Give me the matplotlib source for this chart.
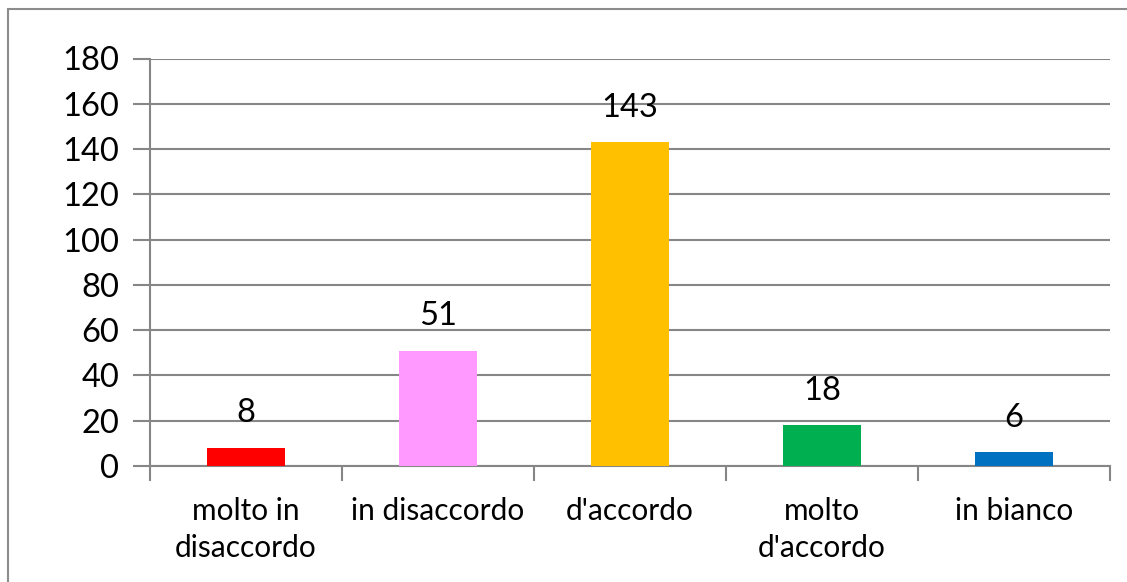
import matplotlib
matplotlib.use("Agg")
import matplotlib.pyplot as plt
from matplotlib.patches import Rectangle

categories = ["molto in\ndisaccordo", "in disaccordo", "d'accordo", "molto\nd'accordo", "in bianco"]
values = [8, 51, 143, 18, 6]
colors = ["#FF0000", "#FF99FF", "#FFC000", "#00B050", "#0070C0"]
yticks = [0, 20, 40, 60, 80, 100, 120, 140, 160, 180]

W, H = 1127, 582
fig = plt.figure(figsize=(W / 100, H / 100), dpi=100)
fig.patch.set_facecolor("white")
plt.rcParams['font.family'] = ['Lato', 'DejaVu Sans']

# outer frame (extends beyond right/bottom edge)
fig.patches.append(Rectangle((8 / W, -0.05), 1.2, 1 - 9 / H + 0.05, transform=fig.transFigure,
                             fill=False, edgecolor="#8c8c8c", linewidth=1.5))

ax = fig.add_axes([150 / W, 1 - 466 / H, 960 / W, (466 - 58.5) / H])
x = list(range(len(categories)))
ax.bar(x, values, width=0.41, color=colors, zorder=3)
ax.set_xlim(-0.5, len(categories) - 0.5)
ax.set_ylim(0, 180)
ax.set_yticks(yticks)
ax.set_yticklabels([str(v) for v in yticks], fontsize=23.5, color="black")
ax.tick_params(axis='y', length=12, width=1.5, color="#868686", pad=10)
ax.yaxis.grid(True, color="#868686", linewidth=1.5, zorder=0)
ax.set_axisbelow(True)

# x ticks at category boundaries
ax.set_xticks([i - 0.5 for i in range(len(categories) + 1)])
ax.set_xticklabels([])
ax.tick_params(axis='x', length=11, width=1.5, color="#868686")
ax.set_xticks(x, minor=True)
ax.set_xticklabels(categories, minor=True, fontsize=21.5, linespacing=1.4)
ax.tick_params(axis='x', which='minor', length=0, pad=22)

for s in ["top", "right"]:
    ax.spines[s].set_visible(False)
for s in ["left", "bottom"]:
    ax.spines[s].set_color("#868686")
    ax.spines[s].set_linewidth(1.5)

for xi, v in zip(x, values):
    ax.annotate(str(v), (xi, v), xytext=(0, 14), textcoords="offset points",
                ha="center", va="bottom", fontsize=23.5)

fig.savefig("out.png", dpi=100)
